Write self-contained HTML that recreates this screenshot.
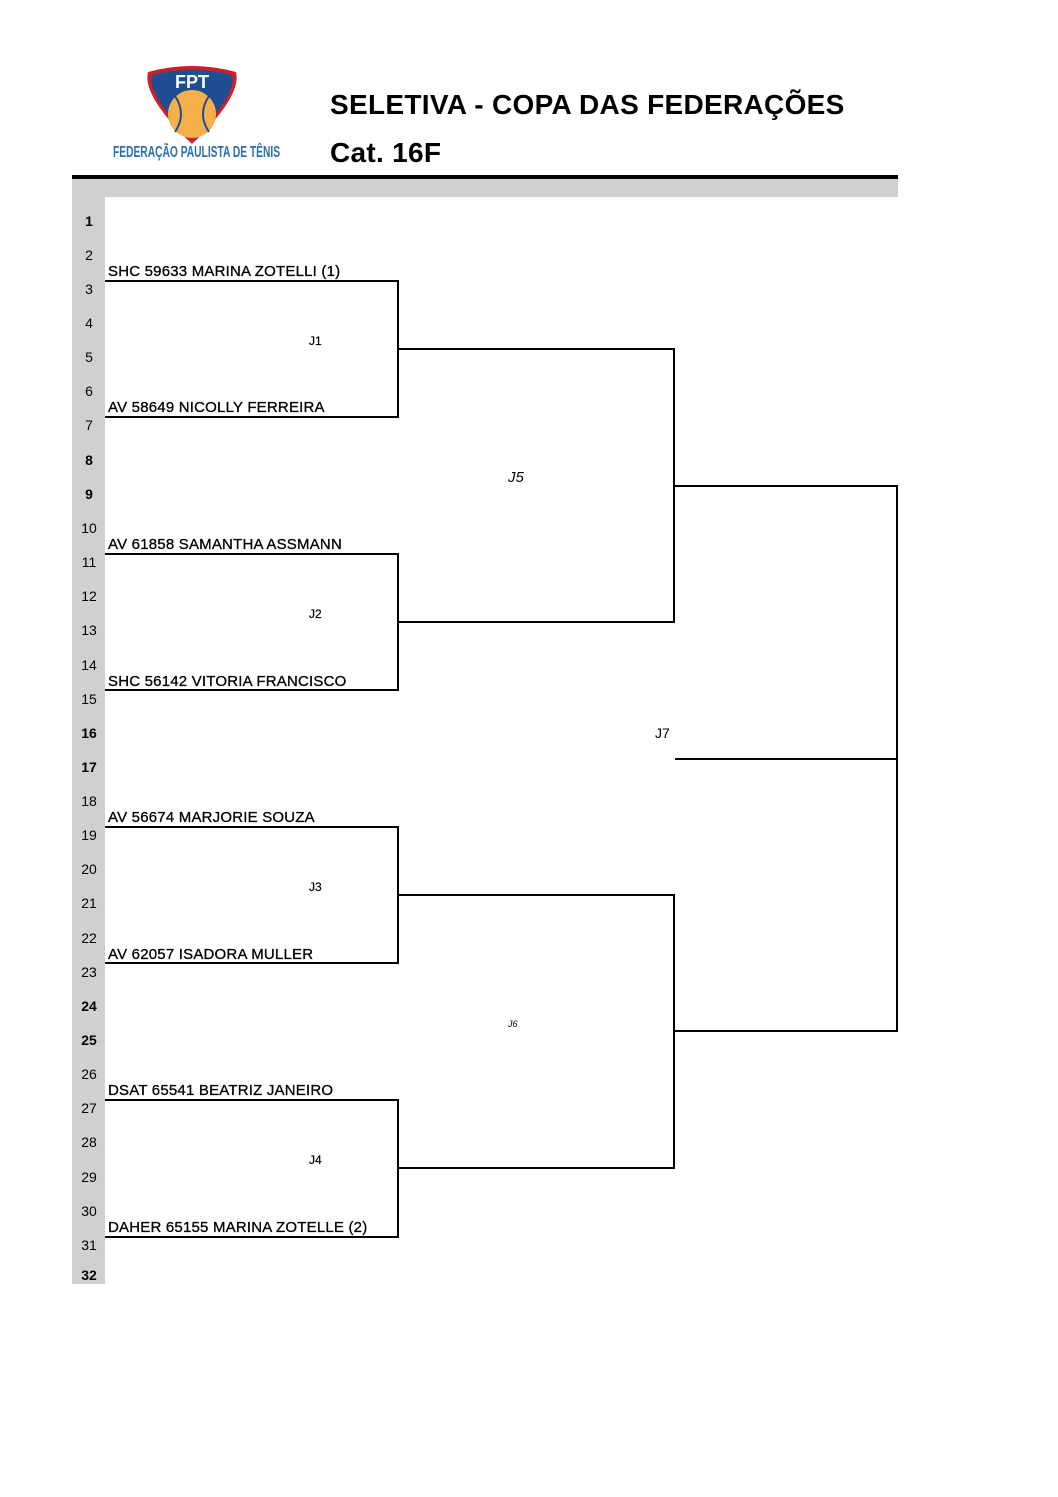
<!DOCTYPE html>
<html><head><meta charset="utf-8"><style>
body{margin:0;width:1058px;height:1497px;background:#fff;position:relative;font-family:"Liberation Sans",Arial,sans-serif;overflow:hidden}
.a{position:absolute;white-space:nowrap}
.n{position:absolute;left:72px;width:34px;text-align:center;font-size:14px;color:#000}
.b{font-weight:bold}
.p{position:absolute;left:108px;font-size:15px;letter-spacing:0.2px;-webkit-text-stroke:0.3px #000;white-space:nowrap}
.l{position:absolute;background:#000}
</style></head><body>
<svg class="a" style="left:142px;top:64px" width="100" height="80" viewBox="0 0 100 80">
<path d="M6 8 Q50 -4 94 8 Q100 32 50 80 Q0 32 6 8Z" fill="#c8202f"/>
<path d="M10 11 Q50 1 90 11 Q95 32 50 74 Q5 32 10 11Z" fill="#1d4e91"/>
<circle cx="50" cy="50" r="24" fill="#f5b04b"/>
<path d="M33 32 Q45 50 33 68 M67 32 Q55 50 67 68" stroke="#1d4e91" stroke-width="2" fill="none"/>
<text x="50" y="24" text-anchor="middle" font-family="Liberation Sans" font-weight="bold" font-size="18" fill="#fff">FPT</text>
</svg>
<div class="a" style="left:113px;top:144px;font-size:16px;color:#2a6fb0;font-weight:bold;transform:scaleX(0.64);transform-origin:left">FEDERAÇÃO PAULISTA DE TÊNIS</div>
<div class="a b" style="left:330px;top:89px;font-size:28px;letter-spacing:0.3px">SELETIVA - COPA DAS FEDERAÇÕES</div>
<div class="a b" style="left:330px;top:137px;font-size:28px;letter-spacing:0.3px">Cat. 16F</div>
<div class="l" style="left:72px;top:175px;width:826px;height:4px"></div>
<div class="a" style="left:72px;top:179px;width:826px;height:18px;background:#d0d0d0"></div>
<div class="a" style="left:72px;top:179px;width:33px;height:1105px;background:#d0d0d0"></div>
<div class="n b" style="top:213px">1</div><div class="n" style="top:247px">2</div><div class="n" style="top:281px">3</div><div class="n" style="top:315px">4</div><div class="n" style="top:349px">5</div><div class="n" style="top:383px">6</div><div class="n" style="top:417px">7</div><div class="n b" style="top:452px">8</div>
<div class="n b" style="top:486px">9</div><div class="n" style="top:520px">10</div><div class="n" style="top:554px">11</div><div class="n" style="top:588px">12</div><div class="n" style="top:622px">13</div><div class="n" style="top:657px">14</div><div class="n" style="top:691px">15</div><div class="n b" style="top:725px">16</div>
<div class="n b" style="top:759px">17</div><div class="n" style="top:793px">18</div><div class="n" style="top:827px">19</div><div class="n" style="top:861px">20</div><div class="n" style="top:895px">21</div><div class="n" style="top:930px">22</div><div class="n" style="top:964px">23</div><div class="n b" style="top:998px">24</div>
<div class="n b" style="top:1032px">25</div><div class="n" style="top:1066px">26</div><div class="n" style="top:1100px">27</div><div class="n" style="top:1134px">28</div><div class="n" style="top:1169px">29</div><div class="n" style="top:1203px">30</div><div class="n" style="top:1237px">31</div><div class="n b" style="top:1267px">32</div>
<div class="p" style="top:263px">SHC 59633 MARINA ZOTELLI (1)</div>
<div class="p" style="top:399px">AV 58649 NICOLLY FERREIRA</div>
<div class="p" style="top:536px">AV 61858 SAMANTHA ASSMANN</div>
<div class="p" style="top:673px">SHC 56142 VITORIA FRANCISCO</div>
<div class="p" style="top:809px">AV 56674 MARJORIE SOUZA</div>
<div class="p" style="top:946px">AV 62057 ISADORA MULLER</div>
<div class="p" style="top:1082px">DSAT 65541 BEATRIZ JANEIRO</div>
<div class="p" style="top:1219px">DAHER 65155 MARINA ZOTELLE (2)</div>
<div class="l" style="left:105px;top:280px;width:294px;height:2px"></div>
<div class="l" style="left:105px;top:416px;width:294px;height:2px"></div>
<div class="l" style="left:105px;top:553px;width:294px;height:2px"></div>
<div class="l" style="left:105px;top:689px;width:294px;height:2px"></div>
<div class="l" style="left:105px;top:826px;width:294px;height:2px"></div>
<div class="l" style="left:105px;top:962px;width:294px;height:2px"></div>
<div class="l" style="left:105px;top:1099px;width:294px;height:2px"></div>
<div class="l" style="left:105px;top:1236px;width:294px;height:2px"></div>
<div class="l" style="left:397px;top:280px;width:2px;height:138px"></div>
<div class="l" style="left:397px;top:553px;width:2px;height:138px"></div>
<div class="l" style="left:397px;top:826px;width:2px;height:138px"></div>
<div class="l" style="left:397px;top:1099px;width:2px;height:139px"></div>
<div class="l" style="left:397px;top:348px;width:278px;height:2px"></div>
<div class="l" style="left:397px;top:621px;width:278px;height:2px"></div>
<div class="l" style="left:397px;top:894px;width:278px;height:2px"></div>
<div class="l" style="left:397px;top:1167px;width:278px;height:2px"></div>
<div class="l" style="left:673px;top:348px;width:2px;height:275px"></div>
<div class="l" style="left:673px;top:894px;width:2px;height:275px"></div>
<div class="l" style="left:673px;top:485px;width:225px;height:2px"></div>
<div class="l" style="left:673px;top:1030px;width:225px;height:2px"></div>
<div class="l" style="left:896px;top:485px;width:2px;height:547px"></div>
<div class="l" style="left:675px;top:758px;width:222px;height:2px"></div>
<div class="a" style="left:309px;top:334px;font-size:12px;-webkit-text-stroke:0.2px #000">J1</div>
<div class="a" style="left:309px;top:607px;font-size:12px;-webkit-text-stroke:0.2px #000">J2</div>
<div class="a" style="left:309px;top:880px;font-size:12px;-webkit-text-stroke:0.2px #000">J3</div>
<div class="a" style="left:309px;top:1153px;font-size:12px;-webkit-text-stroke:0.2px #000">J4</div>
<div class="a" style="left:508px;top:469px;font-size:15px;font-style:italic">J5</div>
<div class="a" style="left:508px;top:1019px;font-size:9px;font-style:italic">J6</div>
<div class="a" style="left:655px;top:725px;font-size:14px">J7</div>
</body></html>
